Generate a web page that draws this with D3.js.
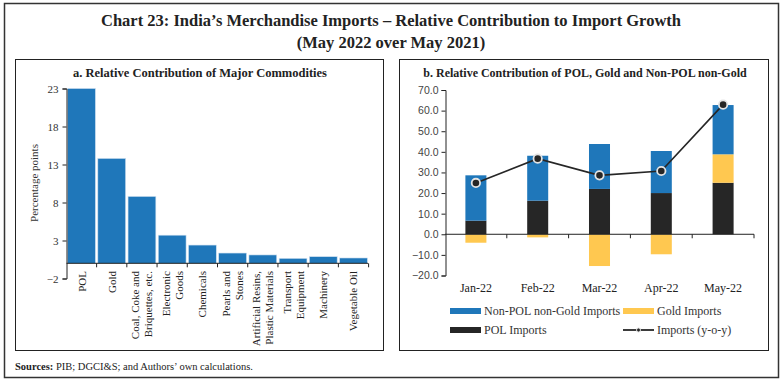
<!DOCTYPE html>
<html>
<head>
<meta charset="utf-8">
<script src="https://cdn.jsdelivr.net/npm/d3@7/dist/d3.min.js"></script>
<style>
  body { margin: 0; background: #fff; }
  svg { display: block; }
  .serif { font-family: "Liberation Serif", "DejaVu Serif", serif; }
  .sans { font-family: "Liberation Sans", "DejaVu Sans", sans-serif; }
</style>
</head>
<body>
<div id="chart"></div>
<script>
// panel a data
var commodities = [
  ["POL"], ["Gold"], ["Coal, Coke and", "Briquettes, etc."], ["Electronic", "Goods"],
  ["Chemicals"], ["Pearls and", "Stones"], ["Artificial Resins,", "Plastic Materials"],
  ["Transport", "Equipment"], ["Machinery"], ["Vegetable Oil"]
];
var contribution = [23.0, 13.8, 8.8, 3.7, 2.4, 1.35, 1.1, 0.65, 0.87, 0.7];
var aTicks = [23, 18, 13, 8, 3, -2];

// panel b data
var months = ["Jan-22", "Feb-22", "Mar-22", "Apr-22", "May-22"];
var polImports = [6.6, 16.3, 22.0, 20.0, 25.0];
var goldImports = [-4.1, -1.5, -15.4, -9.7, 13.8];
var nonPolNonGold = [22.0, 21.8, 21.8, 20.4, 23.9];
var importsYoY = [24.9, 36.7, 28.6, 30.7, 62.9];
var bTicks = [70, 60, 50, 40, 30, 20, 10, 0, -10, -20];

var W = 783, H = 384;
var blue = "#1f77ba", gold = "#ffc850", dark = "#262626";

var svg = d3.select("#chart").append("svg")
    .attr("width", W).attr("height", H);

// outer frame
svg.append("rect").attr("x", 4.5).attr("y", 3.5).attr("width", 774).attr("height", 374)
    .attr("fill", "none").attr("stroke", "#333").attr("stroke-width", 1.5);

svg.append("text").attr("class", "serif").attr("x", 391).attr("y", 26)
    .attr("text-anchor", "middle").attr("font-size", 16.5).attr("font-weight", "bold")
    .attr("fill", "#222")
    .text("Chart 23: India\u2019s Merchandise Imports \u2013 Relative Contribution to Import Growth");
svg.append("text").attr("class", "serif").attr("x", 391).attr("y", 48)
    .attr("text-anchor", "middle").attr("font-size", 16.5).attr("font-weight", "bold")
    .attr("fill", "#222")
    .text("(May 2022 over May 2021)");

// panel frames
svg.append("rect").attr("x", 15.5).attr("y", 59.5).attr("width", 368).attr("height", 291)
    .attr("fill", "none").attr("stroke", "#222").attr("stroke-width", 1);
svg.append("rect").attr("x", 399.5).attr("y", 59.5).attr("width", 369).attr("height", 291)
    .attr("fill", "none").attr("stroke", "#222").attr("stroke-width", 1);

var src = svg.append("text").attr("class", "serif").attr("x", 15).attr("y", 370)
    .attr("font-size", 10.5).attr("fill", "#222");
src.append("tspan").attr("font-weight", "bold").text("Sources: ");
src.append("tspan").text("PIB; DGCI&S; and Authors\u2019 own calculations.");

// ---------- panel a ----------
var ga = svg.append("g");
ga.append("text").attr("class", "serif").attr("x", 200).attr("y", 77)
    .attr("text-anchor", "middle").attr("font-size", 12.5).attr("font-weight", "bold")
    .attr("fill", "#222").text("a. Relative Contribution of Major Commodities");

var xa = d3.scaleBand().domain(d3.range(commodities.length)).range([67, 368]).paddingInner(0.08).paddingOuter(0.02);
var ya = d3.scaleLinear().domain([-2, 23]).range([278.5, 88.5]);

ga.selectAll("rect.bar").data(contribution).enter().append("rect")
    .attr("class", "bar")
    .attr("x", function(d, i) { return xa(i); })
    .attr("width", xa.bandwidth())
    .attr("y", function(d) { return ya(Math.max(0, d)); })
    .attr("height", function(d) { return Math.abs(ya(d) - ya(0)); })
    .attr("fill", blue)
    .attr("stroke", "#cfe0f0").attr("stroke-width", 0.6);

var ayAxis = ga.append("g").attr("transform", "translate(66.5,0)")
    .call(d3.axisLeft(ya).tickValues(aTicks).tickSize(4).tickPadding(4));
ayAxis.select(".domain").attr("stroke", "#222");
ayAxis.selectAll("line").attr("stroke", "#222");
ayAxis.selectAll("text").attr("class", "serif").attr("font-size", 11).attr("fill", "#333");

// x axis line at zero with boundary ticks
ga.append("line").attr("x1", 66.5).attr("x2", 368).attr("y1", ya(0)).attr("y2", ya(0))
    .attr("stroke", "#222").attr("stroke-width", 1);
var bounds = d3.range(commodities.length).map(function(i) { return xa(i) + xa.bandwidth() + xa.step() * xa.paddingInner() / 2; });
ga.selectAll("line.bt").data(bounds).enter().append("line").attr("class", "bt")
    .attr("x1", function(d) { return d; }).attr("x2", function(d) { return d; })
    .attr("y1", ya(0)).attr("y2", ya(0) + 4).attr("stroke", "#222");

var lab = ga.selectAll("g.lab").data(commodities).enter().append("g").attr("class", "lab")
    .attr("transform", function(d, i) { return "translate(" + (xa(i) + xa.bandwidth() / 2) + ",271) rotate(-90)"; });
lab.each(function(d) {
  var g = d3.select(this);
  d.forEach(function(line, j) {
    var off = d.length === 1 ? 0 : (j === 0 ? -6.5 : 6.5);
    g.append("text").attr("class", "serif").attr("x", 0).attr("y", off + 4)
        .attr("text-anchor", "end").attr("font-size", 11).attr("fill", "#222").text(line);
  });
});

ga.append("text").attr("class", "serif")
    .attr("transform", "translate(38,183) rotate(-90)")
    .attr("text-anchor", "middle").attr("font-size", 11).attr("fill", "#333")
    .text("Percentage points");

// ---------- panel b ----------
var gb = svg.append("g");
gb.append("text").attr("class", "serif").attr("x", 585).attr("y", 77)
    .attr("text-anchor", "middle").attr("font-size", 12).attr("font-weight", "bold")
    .attr("fill", "#222").text("b. Relative Contribution of POL, Gold and Non-POL non-Gold");

var xb = d3.scaleBand().domain(months).range([445, 754]).paddingInner(0.66).paddingOuter(0.33);
var yb = d3.scaleLinear().domain([-20, 70]).range([275.5, 90]);

var rows = months.map(function(m, i) {
  return { month: m, pol: polImports[i], gold: goldImports[i], other: nonPolNonGold[i] };
});
var keys = ["pol", "gold", "other"];
var colors = { pol: dark, gold: gold, other: blue };
var series = d3.stack().keys(keys).offset(d3.stackOffsetDiverging)(rows);

gb.selectAll("g.series").data(series).enter().append("g").attr("class", "series")
    .attr("fill", function(s) { return colors[s.key]; })
  .selectAll("rect").data(function(s) { return s; }).enter().append("rect")
    .attr("x", function(d) { return xb(d.data.month); })
    .attr("width", xb.bandwidth())
    .attr("y", function(d) { return yb(Math.max(d[0], d[1])); })
    .attr("height", function(d) { return Math.abs(yb(d[0]) - yb(d[1])); });

var byAxis = gb.append("g").attr("transform", "translate(445.5,0)")
    .call(d3.axisLeft(yb).tickValues(bTicks).tickSize(4).tickPadding(3).tickFormat(d3.format(".1f")));
byAxis.select(".domain").attr("stroke", "#222");
byAxis.selectAll("line").attr("stroke", "#222");
byAxis.selectAll("text").attr("class", "sans").attr("font-size", 10.5).attr("fill", "#444");

gb.append("line").attr("x1", 445).attr("x2", 754).attr("y1", yb(0)).attr("y2", yb(0))
    .attr("stroke", "#222");
var bBounds = months.map(function(m) { return xb(m) + xb.bandwidth() + xb.step() * xb.paddingInner() / 2; });
gb.selectAll("line.bt").data(bBounds).enter().append("line").attr("class", "bt")
    .attr("x1", function(d) { return d; }).attr("x2", function(d) { return d; })
    .attr("y1", yb(0)).attr("y2", yb(0) + 4).attr("stroke", "#222");

gb.selectAll("text.mon").data(months).enter().append("text").attr("class", "serif mon")
    .attr("x", function(d) { return xb(d) + xb.bandwidth() / 2; })
    .attr("y", 292).attr("text-anchor", "middle").attr("font-size", 12).attr("fill", "#222")
    .text(function(d) { return d; });

var line = d3.line()
    .x(function(d, i) { return xb(months[i]) + xb.bandwidth() / 2; })
    .y(function(d) { return yb(d); });
gb.append("path").datum(importsYoY).attr("d", line)
    .attr("fill", "none").attr("stroke", dark).attr("stroke-width", 1.6);
gb.selectAll("circle.pt").data(importsYoY).enter().append("circle").attr("class", "pt")
    .attr("cx", function(d, i) { return xb(months[i]) + xb.bandwidth() / 2; })
    .attr("cy", function(d) { return yb(d); })
    .attr("r", 4.2).attr("fill", dark).attr("stroke", "#e4e4e4").attr("stroke-width", 1.8);

// legend
var legend = [
  { label: "Non-POL non-Gold Imports", color: blue, x: 450, y: 311, type: "bar" },
  { label: "Gold Imports", color: gold, x: 623, y: 311, type: "bar" },
  { label: "POL Imports", color: dark, x: 450, y: 330, type: "bar" },
  { label: "Imports (y-o-y)", color: dark, x: 623, y: 330, type: "line" }
];
legend.forEach(function(l) {
  if (l.type === "bar") {
    gb.append("rect").attr("x", l.x).attr("y", l.y - 3).attr("width", 31).attr("height", 6).attr("fill", l.color);
  } else {
    gb.append("line").attr("x1", l.x).attr("x2", l.x + 31).attr("y1", l.y).attr("y2", l.y)
        .attr("stroke", l.color).attr("stroke-width", 1.8);
    gb.append("circle").attr("cx", l.x + 15.5).attr("cy", l.y).attr("r", 2)
        .attr("fill", l.color).attr("stroke", "#ddd").attr("stroke-width", 1);
  }
  gb.append("text").attr("class", "serif").attr("x", l.x + 34).attr("y", l.y + 4)
      .attr("font-size", 12).attr("fill", "#333").text(l.label);
});
</script>
</body>
</html>
